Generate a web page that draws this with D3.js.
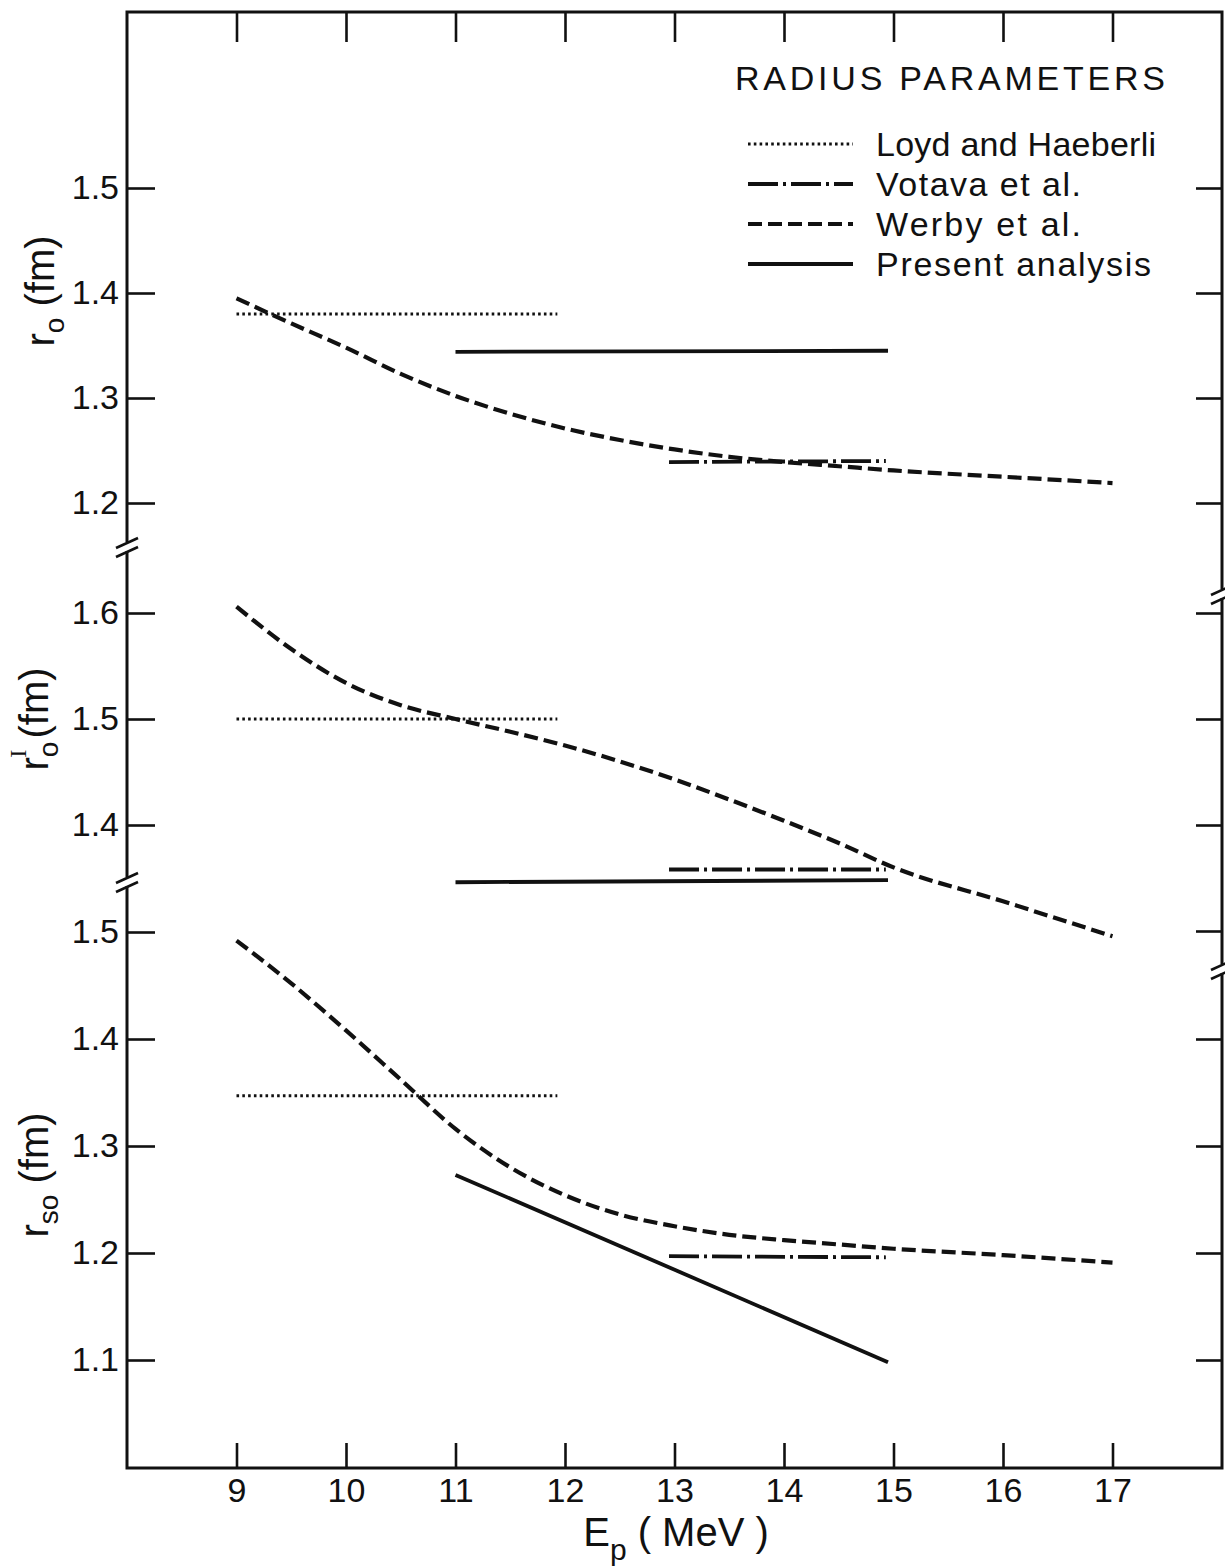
<!DOCTYPE html>
<html>
<head>
<meta charset="utf-8">
<script src="https://cdn.jsdelivr.net/npm/d3@7"></script>
<style>
	body { margin: 0; background: #fff; }
	svg { display: block; }
	text { font-family: "Liberation Sans", Arial, sans-serif; fill: #111; }
</style>
</head>
<body>
<svg class="svgWrapper" width="1225" height="1568"></svg>
<script>

// ---- data ----
const energyTicks = [9, 10, 11, 12, 13, 14, 15, 16, 17];

// Werby et al. curves, one per radius parameter
const werbyEnergy = [9, 9.5, 10, 10.5, 11, 11.5, 12, 12.5, 13, 13.5, 14, 14.5, 15, 16, 17];
const werbyR0  = [1.395, 1.371, 1.348, 1.323, 1.302, 1.285, 1.271, 1.260, 1.251, 1.244, 1.239, 1.235, 1.231, 1.225, 1.219];
const werbyR0I = [1.606, 1.566, 1.534, 1.513, 1.500, 1.488, 1.475, 1.460, 1.443, 1.424, 1.404, 1.383, 1.360, 1.328, 1.295];
const werbyRso = [1.492, 1.452, 1.408, 1.362, 1.316, 1.280, 1.254, 1.236, 1.225, 1.217, 1.212, 1.208, 1.204, 1.198, 1.191];

// Loyd and Haeberli (constant)
const loydEnergy = [9, 11.93];
const loydR0  = [1.380, 1.380];
const loydR0I = [1.500, 1.500];
const loydRso = [1.347, 1.347];

// Votava et al. (constant)
const votavaEnergy = [12.95, 14.93];
const votavaR0  = [1.239, 1.240];
const votavaR0I = [1.358, 1.358];
const votavaRso = [1.197, 1.196];

// Present analysis
const presentEnergy = [11, 14.95];
const presentR0  = [1.344, 1.345];
const presentR0I = [1.346, 1.348];
const presentRso = [1.273, 1.098];

// tick labels per panel
const leftTicks  = [[1.5, 1.4, 1.3, 1.2], [1.6, 1.5, 1.4], [1.5, 1.4, 1.3, 1.2, 1.1]];
const rightTicks = [[1.5, 1.4, 1.3, 1.2], [1.6, 1.5, 1.4, 1.3], [1.4, 1.3, 1.2, 1.1]];

const legendNames = ['Loyd and Haeberli', 'Votava et al.', 'Werby et al.', 'Present analysis'];

// ---- layout ----
const frame = {left: 127, right: 1222, top: 12, bottom: 1468};
const ink = '#111';

const styles = {
	loyd:    {width: 3, dash: '2.6,3.2'},
	votava:  {width: 3.8, dash: '30,5,3,5'},
	werby:   {width: 4.2, dash: '14,6'},
	present: {width: 3.8, dash: null}
};

const svgObj = d3.select('.svgWrapper');

const x = d3.scaleLinear().domain([8, 18]).range([frame.left, frame.right]);

const panelScales = [
	d3.scaleLinear().domain([1.2, 1.5]).range([503, 188]),
	d3.scaleLinear().domain([1.4, 1.6]).range([825, 613]),
	d3.scaleLinear().domain([1.1, 1.5]).range([1360, 932])
];

const panelSeries = [
	{werby: werbyR0, loyd: loydR0, votava: votavaR0, present: presentR0},
	{werby: werbyR0I, loyd: loydR0I, votava: votavaR0I, present: presentR0I},
	{werby: werbyRso, loyd: loydRso, votava: votavaRso, present: presentRso}
];

const zip = (es, vs) => es.map((e, i) => ({e, v: vs[i]}));

const styleLine = (sel, st) => {
	sel.attr('fill', 'none')
		.attr('stroke', ink)
		.attr('stroke-width', st.width)
		.attr('stroke-dasharray', st.dash);
};

// ---- axes ----
function tidyAxis(g){
	g.select('.domain').remove();
	g.selectAll('.tick line').attr('stroke', ink).attr('stroke-width', 2.6);
	g.selectAll('.tick text').attr('fill', ink).style('font-size', '34px').attr('font-family', null);
}

panelScales.forEach((y, i) => {
	svgObj.append('g')
		.attr('transform', `translate(${frame.left},0)`)
		.call(d3.axisLeft(y).tickValues(leftTicks[i]).tickSize(-28).tickPadding(8).tickFormat(d3.format('.1f')))
		.call(tidyAxis);

	svgObj.append('g')
		.attr('transform', `translate(${frame.right},0)`)
		.call(d3.axisRight(y).tickValues(rightTicks[i]).tickSize(-26).tickFormat(''))
		.call(tidyAxis);
});

svgObj.append('g')
	.attr('transform', `translate(0,${frame.bottom})`)
	.call(d3.axisBottom(x).tickValues(energyTicks).tickSize(-25).tickPadding(10).tickFormat(d3.format('d')))
	.call(tidyAxis);

svgObj.append('g')
	.attr('transform', `translate(0,${frame.top})`)
	.call(d3.axisTop(x).tickValues(energyTicks).tickSize(-30).tickFormat(''))
	.call(tidyAxis);

// frame
svgObj.append('rect')
	.attr('x', frame.left)
	.attr('y', frame.top)
	.attr('width', frame.right - frame.left)
	.attr('height', frame.bottom - frame.top)
	.attr('fill', 'none')
	.attr('stroke', ink)
	.attr('stroke-width', 3);

// axis breaks (left and right sides do not line up in the original)
const breaks = [
	{x: frame.left, y: 548}, {x: frame.left, y: 883},
	{x: frame.right, y: 595}, {x: frame.right, y: 970}
];

const breakG = svgObj.append('g');
breaks.forEach(b => {
	breakG.append('rect')
		.attr('x', b.x - 4).attr('y', b.y - 6)
		.attr('width', 8).attr('height', 9)
		.attr('fill', '#fff');
	[-5, 4].forEach(off => {
		breakG.append('line')
			.attr('x1', b.x - 11).attr('y1', b.y + off + 5)
			.attr('x2', b.x + 11).attr('y2', b.y + off - 5)
			.attr('stroke', ink)
			.attr('stroke-width', 2.6);
	});
});

// ---- curves ----
const plotG = svgObj.append('g');

panelSeries.forEach((s, i) => {
	const y = panelScales[i];
	const lineGen = d3.line().x(d => x(d.e)).y(d => y(d.v));

	plotG.append('path')
		.datum(zip(werbyEnergy, s.werby))
		.attr('d', lineGen.curve(d3.curveMonotoneX))
		.call(styleLine, styles.werby);

	const straight = d3.line().x(d => x(d.e)).y(d => y(d.v));

	plotG.append('path')
		.datum(zip(loydEnergy, s.loyd))
		.attr('d', straight)
		.call(styleLine, styles.loyd);

	plotG.append('path')
		.datum(zip(votavaEnergy, s.votava))
		.attr('d', straight)
		.call(styleLine, styles.votava);

	plotG.append('path')
		.datum(zip(presentEnergy, s.present))
		.attr('d', straight)
		.call(styleLine, styles.present);
});

// ---- legend ----
const legendG = svgObj.append('g');

legendG.append('text')
	.attr('x', 735)
	.attr('y', 90)
	.attr('textLength', 430)
	.attr('lengthAdjust', 'spacing')
	.style('font-size', '34px')
	.text('RADIUS PARAMETERS');

const legendStyles = [styles.loyd, styles.votava, styles.werby, styles.present];
const legendRows = [144, 184, 224, 264];
const legendWidths = [280, 205, 205, 275];

legendNames.forEach((name, i) => {
	legendG.append('line')
		.attr('x1', 748).attr('x2', 853)
		.attr('y1', legendRows[i]).attr('y2', legendRows[i])
		.call(styleLine, legendStyles[i]);

	legendG.append('text')
		.attr('x', 876)
		.attr('y', legendRows[i] + 12)
		.attr('textLength', legendWidths[i])
		.attr('lengthAdjust', 'spacing')
		.style('font-size', '34px')
		.text(name);
});

// ---- axis titles ----
const yTitle = (cx, cy) => svgObj.append('text')
	.attr('transform', `translate(${cx},${cy}) rotate(-90)`)
	.attr('text-anchor', 'middle')
	.style('font-size', '40px');

const t1 = yTitle(54, 291);
t1.append('tspan').text('r');
t1.append('tspan').attr('dy', 10).style('font-size', '28px').text('o');
t1.append('tspan').attr('dy', -10).text(' (fm)');

const t2 = yTitle(48, 719);
t2.append('tspan').text('r');
t2.append('tspan').attr('dy', 10).style('font-size', '28px').text('o');
t2.append('tspan').attr('dx', -16).attr('dy', -32).style('font-size', '24px').style('font-family', 'Liberation Serif, serif').text('I');
t2.append('tspan').attr('dy', 22).text(' (fm)');

const t3 = yTitle(48, 1175);
t3.append('tspan').text('r');
t3.append('tspan').attr('dy', 10).style('font-size', '28px').text('so');
t3.append('tspan').attr('dy', -10).text(' (fm)');

const xTitle = svgObj.append('text')
	.attr('x', 676)
	.attr('y', 1546)
	.attr('text-anchor', 'middle')
	.style('font-size', '40px');
xTitle.append('tspan').text('E');
xTitle.append('tspan').attr('dy', 14).style('font-size', '30px').text('p');
xTitle.append('tspan').attr('dy', -14).text('  ( MeV )');

</script>
</body>
</html>
